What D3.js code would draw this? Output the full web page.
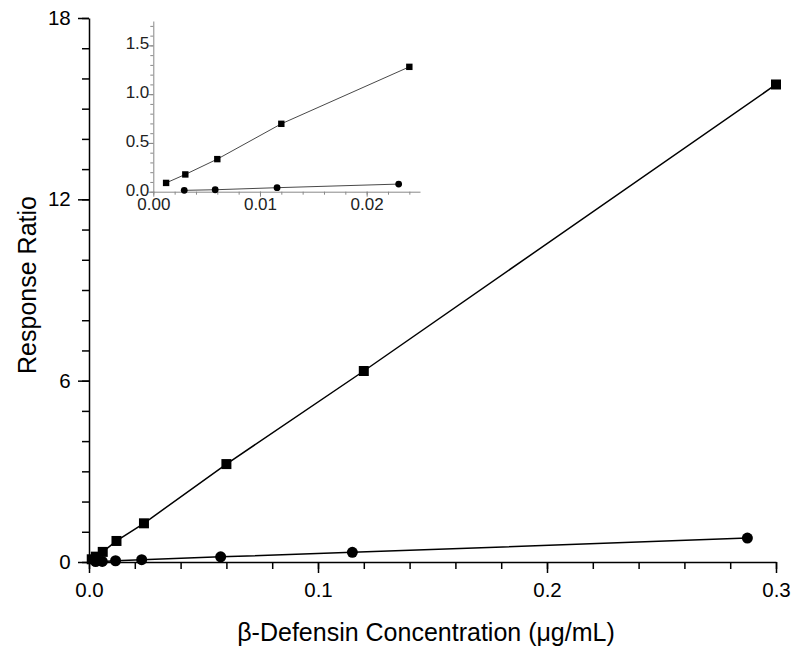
<!DOCTYPE html>
<html><head><meta charset="utf-8">
<script src="https://cdn.jsdelivr.net/npm/d3@7"></script>
<style>body{margin:0;background:#fff}svg{display:block;font-family:"Liberation Sans",Arial,sans-serif}</style>
</head><body><svg id="c" width="799" height="655"></svg>
<script>
// Data
const squareX = [0.0012, 0.003, 0.006, 0.012, 0.024, 0.06, 0.12, 0.30];
const squareY = [0.09, 0.177, 0.334, 0.696, 1.28, 3.24, 6.32, 15.8];
const circleX = [0.0029, 0.0058, 0.0116, 0.023, 0.0575, 0.115, 0.2875];
const circleY = [0.014, 0.02, 0.041, 0.078, 0.17, 0.32, 0.79];
const mainXTicks = [0.0, 0.1, 0.2, 0.3];
const mainYTicks = [0, 6, 12, 18];
const insetXTicks = [0.00, 0.01, 0.02];
const insetYTicks = [0.0, 0.5, 1.0, 1.5];

const svg = d3.select("#c");
const sq = squareX.map((x,i)=>({x, y: squareY[i]}));
const ci = circleX.map((x,i)=>({x, y: circleY[i]}));
const FF = "Liberation Sans, Arial, sans-serif";

// Main chart
const x = d3.scaleLinear().domain([0,0.3]).range([89,776]);
const y = d3.scaleLinear().domain([0,18]).range([562,18]);

const g = svg.append("g");
const xMinor = d3.range(0,0.3001,0.02);
const yMinor = d3.range(0,18.01,1);
g.append("g").attr("transform","translate(0,562)")
  .call(d3.axisBottom(x).tickValues(xMinor).tickSize(7).tickFormat(""))
  .call(a=>a.select(".domain").remove())
  .selectAll("line").attr("stroke","#000").attr("stroke-width",1.5);
g.append("g").attr("transform","translate(89,0)")
  .call(d3.axisLeft(y).tickValues(yMinor).tickSize(7).tickFormat(""))
  .call(a=>a.select(".domain").remove())
  .selectAll("line").attr("stroke","#000").attr("stroke-width",1.5);

const xAx = g.append("g").attr("transform","translate(0,562)")
  .call(d3.axisBottom(x).tickValues(mainXTicks).tickSize(11).tickSizeOuter(0).tickFormat(d3.format(".1f")));
const yAx = g.append("g").attr("transform","translate(89,0)")
  .call(d3.axisLeft(y).tickValues(mainYTicks).tickSize(11).tickSizeOuter(0).tickFormat(d3.format("d")));
[xAx,yAx].forEach(a=>{
  a.select(".domain").attr("stroke","#000").attr("stroke-width",1.5);
  a.selectAll("line").attr("stroke","#000").attr("stroke-width",1.5);
  a.selectAll("text").attr("font-size",20.5).attr("fill","#000").attr("font-family",FF);
});
xAx.selectAll("text").attr("y",20.5).attr("dy","0.71em");
yAx.selectAll("text").attr("x",-18.3);

const line = d3.line().x(d=>x(d.x)).y(d=>y(d.y));
g.append("path").datum(sq).attr("d",line).attr("fill","none").attr("stroke","#000").attr("stroke-width",1.5);
g.append("path").datum(ci).attr("d",line).attr("fill","none").attr("stroke","#000").attr("stroke-width",1.5);
g.selectAll(".sq").data(sq).enter().append("rect")
  .attr("x",d=>x(d.x)-5).attr("y",d=>y(d.y)-5).attr("width",10).attr("height",10).attr("fill","#000");
g.selectAll(".ci").data(ci).enter().append("circle")
  .attr("cx",d=>x(d.x)).attr("cy",d=>y(d.y)).attr("r",5.5).attr("fill","#000");

svg.append("text").attr("x",426).attr("y",641).attr("text-anchor","middle")
  .attr("font-size",25).attr("fill","#000").attr("font-family",FF).text("β-Defensin Concentration (μg/mL)");
svg.append("text").attr("transform","translate(36,285) rotate(-90)").attr("text-anchor","middle")
  .attr("font-size",25).attr("fill","#000").attr("font-family",FF).text("Response Ratio");

// Inset
const ix = d3.scaleLinear().domain([0,0.025]).range([153.3,420]);
const iy = d3.scaleLinear().domain([0,1.75]).range([191.7,21]);
const ig = svg.append("g");
const axCol = "#888";
ig.append("g").attr("transform","translate(0,191.7)")
  .call(d3.axisBottom(ix).tickValues(d3.range(0,0.02501,0.002)).tickSize(3).tickFormat(""))
  .call(a=>a.select(".domain").remove())
  .selectAll("line").attr("stroke",axCol);
ig.append("g").attr("transform","translate(153.3,0)")
  .call(d3.axisLeft(iy).tickValues(d3.range(0,1.751,0.1)).tickSize(3).tickFormat(""))
  .call(a=>a.select(".domain").remove())
  .selectAll("line").attr("stroke",axCol);
const ixAx = ig.append("g").attr("transform","translate(0,191.7)")
  .call(d3.axisBottom(ix).tickValues(insetXTicks).tickSize(5).tickSizeOuter(0).tickFormat(d3.format(".2f")));
const iyAx = ig.append("g").attr("transform","translate(153.3,0)")
  .call(d3.axisLeft(iy).tickValues(insetYTicks).tickSize(5).tickSizeOuter(0).tickFormat(d3.format(".1f")));
[ixAx,iyAx].forEach(a=>{
  a.select(".domain").attr("stroke",axCol).attr("stroke-width",1);
  a.selectAll("line").attr("stroke",axCol);
  a.selectAll("text").attr("font-size",17).attr("fill","#222").attr("font-family",FF);
});
ixAx.selectAll("text").attr("y",6).attr("dy","0.71em");
iyAx.selectAll("text").attr("x",-4).attr("dy","0.2em");
const iline = d3.line().x(d=>ix(d.x)).y(d=>iy(d.y));
const sqIn = sq.filter(d=>d.x<=0.025), ciIn = ci.filter(d=>d.x<=0.025);
ig.append("path").datum(sqIn).attr("d",iline).attr("fill","none").attr("stroke","#333").attr("stroke-width",0.9);
ig.append("path").datum(ciIn).attr("d",iline).attr("fill","none").attr("stroke","#333").attr("stroke-width",0.9);
ig.selectAll(".isq").data(sqIn).enter().append("rect")
  .attr("x",d=>ix(d.x)-3.2).attr("y",d=>iy(d.y)-3.2).attr("width",6.4).attr("height",6.4).attr("fill","#000");
ig.selectAll(".ici").data(ciIn).enter().append("circle")
  .attr("cx",d=>ix(d.x)).attr("cy",d=>iy(d.y)).attr("r",3.4).attr("fill","#000");
</script></body></html>
